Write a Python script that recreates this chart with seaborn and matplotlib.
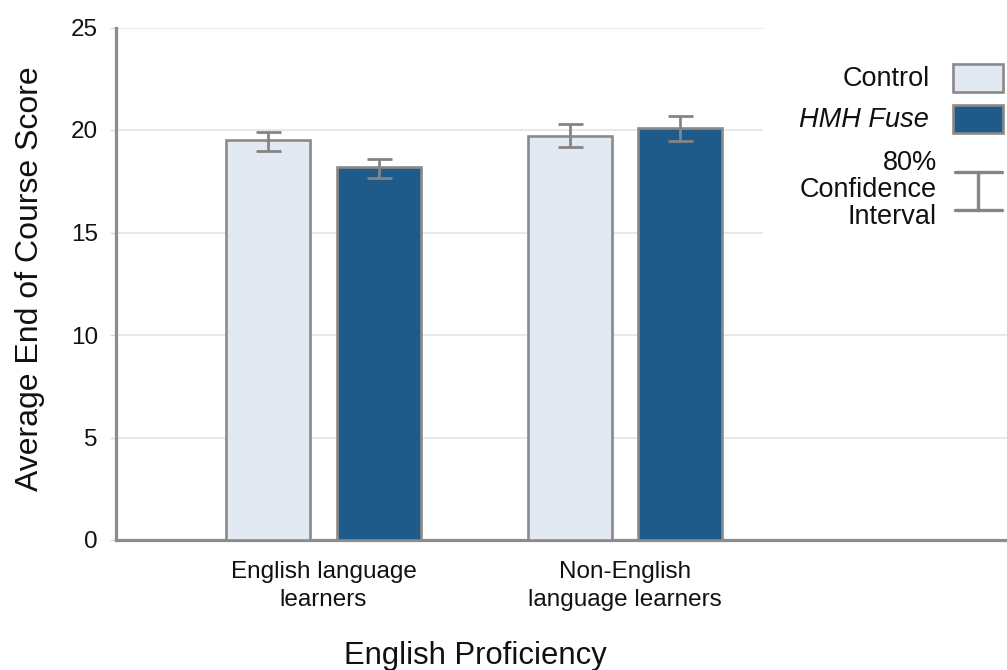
import matplotlib
matplotlib.use("Agg")
import matplotlib.pyplot as plt
import seaborn as sns
import pandas as pd
from matplotlib.patches import Rectangle
from matplotlib.lines import Line2D
from matplotlib.container import BarContainer

# ---- data ----
groups = ["English language\nlearners", "Non-English\nlanguage learners"]
conditions = ["Control", "HMH Fuse"]
control_means = [19.5, 19.7]
fuse_means = [18.2, 20.1]
control_lo = [19.0, 19.15]
control_hi = [19.9, 20.3]
fuse_lo = [17.65, 19.45]
fuse_hi = [18.6, 20.7]
y_ticks = [0, 5, 10, 15, 20, 25]

ctrl_color = "#E3E9F2"
fuse_color = "#1E5A8A"
edge_grey = "#8A8A8A"

sns.set_theme(style="white")
plt.rcParams["font.family"] = ["Liberation Sans", "DejaVu Sans"]

df = pd.DataFrame({
    "group": groups * 2,
    "condition": [conditions[0]] * 2 + [conditions[1]] * 2,
    "score": control_means + fuse_means,
})

W, H = 1007, 670
fig = plt.figure(figsize=(W / 100, H / 100), dpi=100)
ax = fig.add_axes([116 / W, 130 / H, (W - 116) / W, 512.5 / H])

sns.barplot(data=df, x="group", y="score", hue="condition", order=groups,
            hue_order=conditions, palette=[ctrl_color, fuse_color],
            saturation=1, width=0.732, gap=0.24, edgecolor=edge_grey,
            linewidth=1.9, errorbar=None, legend=False, ax=ax, zorder=3)

# error bars at bar centers
lows = [control_lo, fuse_lo]
highs = [control_hi, fuse_hi]
means = [control_means, fuse_means]
bar_conts = [c for c in ax.containers if isinstance(c, BarContainer)]
for ci, cont in enumerate(bar_conts):
    for gi, bar in enumerate(cont.patches):
        xc = bar.get_x() + bar.get_width() / 2
        m = means[ci][gi]
        ax.errorbar([xc], [m], yerr=[[m - lows[ci][gi]], [highs[ci][gi] - m]],
                    fmt="none", ecolor="#858585", elinewidth=2.0,
                    capsize=9, capthick=2.0, zorder=4)

ax.set_ylim(0, 25)
ax.set_yticks(y_ticks)
ax.set_xlim(-0.688, 2.267)
ax.grid(axis="y", color="#E2E2E2", linewidth=1.1)
ax.set_axisbelow(True)
for s in ["top", "right"]:
    ax.spines[s].set_visible(False)
for s in ["left", "bottom"]:
    ax.spines[s].set_color("#8C8C8C")
    ax.spines[s].set_linewidth(2.3)
ax.tick_params(axis="y", length=4, color="#D8D8D8", width=1, pad=9,
               labelsize=17.5, labelcolor="#111111", left=True)
ax.tick_params(axis="x", length=0, pad=15, labelsize=17.5, labelcolor="#111111")
for t in ax.get_xticklabels():
    t.set_linespacing(1.38)

ax.set_xlabel("English Proficiency", fontsize=22.3, color="#111111")
ax.set_ylabel("Average End of Course Score", fontsize=23, color="#111111")
ax.xaxis.set_label_coords((475 - 116) / (W - 116), -0.197)
ax.yaxis.set_label_coords(-(116 - 45) / (W - 116), 0.509)

# white box covering gridlines behind legend
fig.patches.append(Rectangle((763 / W, 1 - 248 / H), (W - 763) / W, 248 / H,
                             transform=fig.transFigure, facecolor="white",
                             edgecolor="none", zorder=1.5))

def fx(px):
    return px / W

def fy(py):
    return 1 - py / H

fig.text(fx(930), fy(79), "Control", ha="right", va="center", fontsize=19.5,
         color="#111111", zorder=5)
fig.text(fx(929), fy(120), "HMH Fuse", ha="right", va="center", fontsize=19.5,
         style="italic", color="#111111", zorder=5)
fig.text(fx(937), fy(190), "80%\nConfidence\nInterval", ha="right", va="center",
         fontsize=19.5, linespacing=1.05, color="#111111", zorder=5)
fig.patches.append(Rectangle((fx(953), fy(92)), 50 / W, 28 / H,
                             transform=fig.transFigure, facecolor=ctrl_color,
                             edgecolor=edge_grey, linewidth=1.9, zorder=5))
fig.patches.append(Rectangle((fx(953), fy(133)), 50 / W, 28 / H,
                             transform=fig.transFigure, facecolor=fuse_color,
                             edgecolor=edge_grey, linewidth=1.9, zorder=5))
for (x0, y0, x1, y1) in [(978, 172, 978, 210), (955, 172, 1002, 172), (955, 210, 1002, 210)]:
    fig.lines.append(Line2D([fx(x0), fx(x1)], [fy(y0), fy(y1)],
                            transform=fig.transFigure, color="#858585",
                            linewidth=2.4, zorder=5))

fig.savefig("out.png", dpi=100)
